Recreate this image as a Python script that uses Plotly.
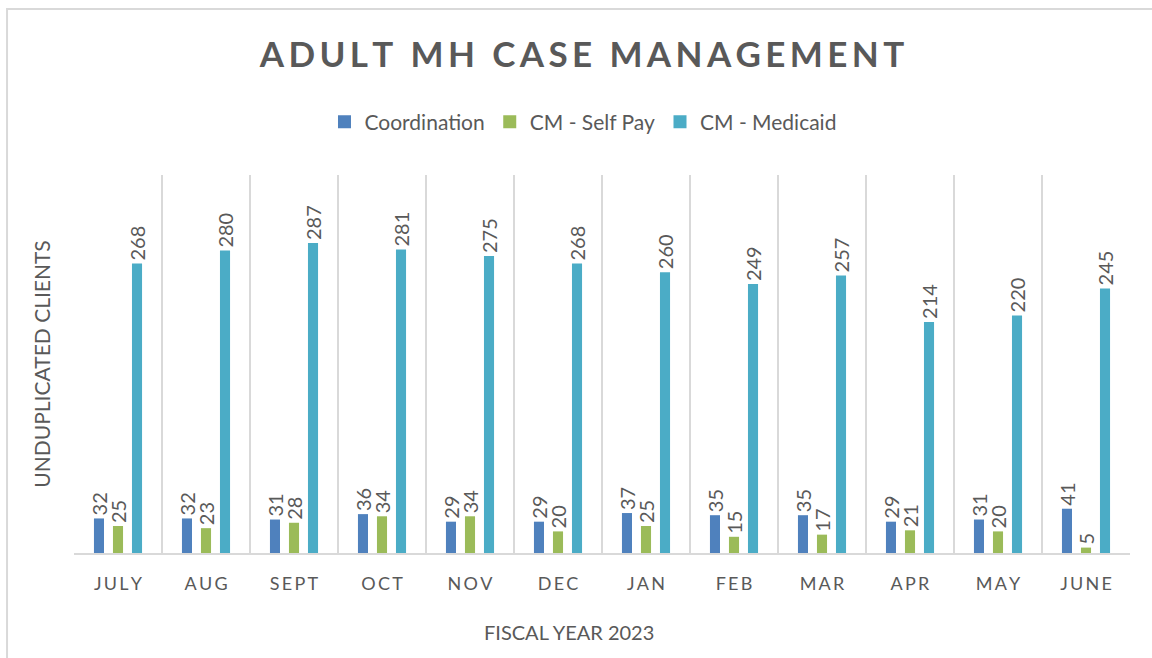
import plotly.graph_objects as go

months = ["JULY", "AUG", "SEPT", "OCT", "NOV", "DEC", "JAN", "FEB", "MAR", "APR", "MAY", "JUNE"]
coordination = [32, 32, 31, 36, 29, 29, 37, 35, 35, 29, 31, 41]
cm_self_pay = [25, 23, 28, 34, 34, 20, 25, 15, 17, 21, 20, 5]
cm_medicaid = [268, 280, 287, 281, 275, 268, 260, 249, 257, 214, 220, 245]

series = [
    ("Coordination", coordination, "#4f81bd"),
    ("CM - Self Pay", cm_self_pay, "#9bbb59"),
    ("CM - Medicaid", cm_medicaid, "#4bacc6"),
]

TXT = "#595959"
FONT = "Lato, 'Open Sans', sans-serif"
THIN = "\u2009"


def spaced(s, sep=THIN):
    return sep.join(list(s))


x = list(range(len(months)))

fig = go.Figure()
for name, vals, color in series:
    fig.add_trace(go.Bar(
        x=x, y=vals, name=name, showlegend=False,
        marker=dict(color=color, line=dict(width=0)),
        text=[str(v) for v in vals],
        textposition="outside",
        textangle=-90,
        constraintext="none",
        textfont=dict(size=20, color=TXT, family=FONT),
        cliponaxis=False,
    ))

# legend entries with square swatches
for name, vals, color in series:
    fig.add_trace(go.Scatter(
        x=[None], y=[None], name=name, mode="markers",
        marker=dict(symbol="square", size=13, color=color),
    ))

# invisible trace on secondary x-axis to show category-boundary gridlines
fig.add_trace(go.Scatter(x=[-0.5, len(months) - 0.5], y=[0, 0], xaxis="x2",
                         mode="markers", marker=dict(opacity=0), showlegend=False,
                         hoverinfo="skip"))

fig.update_layout(
    width=1152, height=658,
    paper_bgcolor="white", plot_bgcolor="white",
    margin=dict(l=74, r=22, t=175, b=105, autoexpand=False),
    barmode="group", bargap=0.352, bargroupgap=0.47,
    title=dict(text="<b>" + spaced("ADULT MH CASE MANAGEMENT", THIN) + "</b>",
               x=0.481, xref="paper", xanchor="center",
               y=1 - 55 / 658, yref="container", yanchor="middle",
               font=dict(size=35, color=TXT, family=FONT)),
    legend=dict(orientation="h", x=0.482, xanchor="center", y=1.14, yanchor="middle",
                font=dict(size=21, color=TXT, family=FONT),
                itemwidth=30, traceorder="normal"),
    xaxis=dict(
        tickvals=x, ticktext=[spaced(m) for m in months],
        range=[-0.5, len(months) - 0.5],
        showgrid=False, zeroline=False, automargin=False,
        showline=True, linecolor="#d9d9d9", linewidth=2,
        ticks="", ticklabelstandoff=13,
        tickfont=dict(size=18, color=TXT, family=FONT),
    ),
    xaxis2=dict(
        overlaying="x", range=[-0.5, len(months) - 0.5], automargin=False,
        tickvals=[i - 0.5 for i in range(len(months) + 1)],
        showticklabels=False, showgrid=True, gridcolor="#d9d9d9", gridwidth=2,
        zeroline=False, showline=False, ticks="",
    ),
    yaxis=dict(
        range=[0, 350], showgrid=False, zeroline=False, showticklabels=False,
        showline=False, ticks="", automargin=False,
        title=dict(text="UNDUPLICATED CLIENTS", standoff=16,
                   font=dict(size=21, color=TXT, family=FONT)),
    ),
    annotations=[dict(text="FISCAL YEAR 2023", xref="paper", yref="paper",
                      x=0.469, y=-0.209, xanchor="center", yanchor="middle",
                      showarrow=False, font=dict(size=20, color=TXT, family=FONT))],
    shapes=[dict(type="rect", xref="paper", yref="paper",
                 x0=-0.0634, x1=1.1, y0=-0.4, y1=1.439,
                 line=dict(color="#d9d9d9", width=2), layer="below")],
    font=dict(family=FONT, color=TXT),
)

fig.write_html("out.html", config={"displayModeBar": False},
               post_script="document.body.style.margin='0';")
